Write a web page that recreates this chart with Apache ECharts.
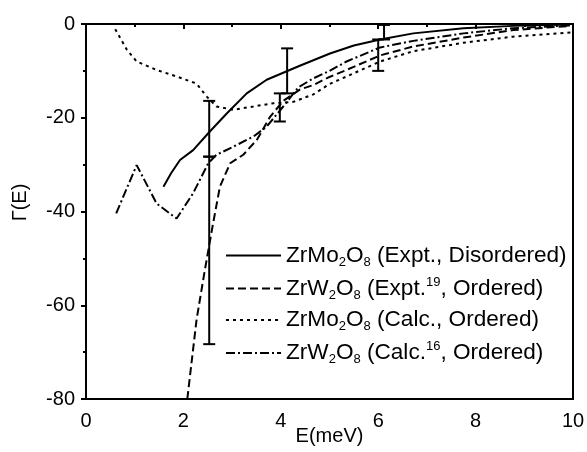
<!DOCTYPE html>
<html>
<head>
<meta charset="utf-8">
<script src="https://cdn.jsdelivr.net/npm/echarts@6/dist/echarts.min.js"></script>
<style>html,body{margin:0;padding:0;background:#fff;}#c{width:587px;height:452px;}</style>
</head>
<body>
<div id="c"></div>
<script>
const solidX = [1.59,1.75,1.93,2.2,2.51,2.89,3.3,3.71,4.05,4.39,5.01,5.5,6.04,6.72,7.75,8.77,9.94];
const solidY = [-34.7,-31.8,-29.0,-26.9,-23.3,-19.1,-14.8,-11.9,-10.4,-8.9,-6.3,-4.6,-3.3,-2.0,-0.9,-0.4,-0.1];
const dashedX = [2.08,2.27,2.44,2.61,2.75,2.96,3.23,3.51,3.78,4.05,4.39,4.67,5.0,5.35,6.04,6.72,7.75,8.77,9.94];
const dashedY = [-80,-63.1,-52.5,-42.5,-34.7,-29.7,-27.9,-24.7,-19.8,-16.4,-14.0,-13.0,-11.3,-9.8,-6.7,-4.8,-2.9,-1.3,-0.4];
const dottedX = [0.6,0.84,1.04,1.45,1.86,2.27,2.48,2.68,3.02,3.44,3.85,4.26,4.67,5.0,5.35,6.04,6.72,7.75,8.77,10];
const dottedY = [-1.1,-5.5,-8.0,-9.8,-11.2,-12.7,-15.5,-17.6,-18.3,-17.6,-16.9,-16.6,-15.0,-12.8,-11.2,-8.0,-5.8,-4.0,-2.7,-1.8];
const dashdotX = [0.62,1.04,1.45,1.86,2.2,2.51,2.68,3.02,3.44,3.71,4.05,4.36,4.67,5.0,5.35,6.04,6.72,7.75,8.77,9.94];
const dashdotY = [-40.4,-30.1,-38.3,-41.5,-36.1,-29.7,-27.9,-26.2,-24.0,-21.9,-17.6,-13.5,-11.6,-10.0,-8.0,-5.0,-3.6,-2.0,-0.9,-0.3];
const errX = [2.53,2.53,4.13,3.98,6.12,6.0];
const errLow = [-28.3,-68.3,-14.8,-20.8,-3.3,-10.0];
const errHigh = [-16.4,-28.3,-5.2,-14.8,-0.2,-3.3];
const seriesNames = ['s1','s2','s3','s4'];
const legendLabels = {
  s1: '{n|ZrMo}{s|2}{n|O}{s|8}{n| (Expt., Disordered)}',
  s2: '{n|ZrW}{s|2}{n|O}{s|8}{n| (Expt.}{p|19}{n|, Ordered)}',
  s3: '{n|ZrMo}{s|2}{n|O}{s|8}{n| (Calc., Ordered)}',
  s4: '{n|ZrW}{s|2}{n|O}{s|8}{n| (Calc.}{p|16}{n|, Ordered)}'
};
const xTicks = {min:0, max:10, interval:2};
const yTicks = {min:-80, max:0, interval:20};

function pairs(xs, ys){ return xs.map((x,i)=>[x, ys[i]]); }
const FONT = '"Liberation Sans", Arial, sans-serif';
const chart = echarts.init(document.getElementById('c'));
const lineCommon = {type:'line', symbol:'none', showSymbol:false, smooth:false, clip:true, animation:false};
chart.setOption({
  backgroundColor:'#fff',
  animation:false,
  grid:{left:86, right:14, top:24, bottom:53, show:true, borderColor:'#000', borderWidth:2, backgroundColor:'transparent',
    containLabel:false, outerBoundsMode:'none'},
  xAxis:{type:'value', min:xTicks.min, max:xTicks.max, interval:xTicks.interval,
    name:'E(meV)', nameLocation:'middle', nameGap:27, nameMoveOverlap:false,
    nameTextStyle:{fontFamily:FONT, fontSize:20, color:'#000'},
    axisLine:{lineStyle:{color:'#000', width:2}},
    axisTick:{show:true, inside:false, length:5, lineStyle:{color:'#000', width:2}},
    minorTick:{show:true, splitNumber:2, length:3, lineStyle:{color:'#000', width:2}},
    splitLine:{show:false},
    axisLabel:{fontFamily:FONT, fontSize:20, color:'#000', margin:12}
  },
  yAxis:{type:'value', min:yTicks.min, max:yTicks.max, interval:yTicks.interval,
    name:'Γ(E)', nameLocation:'middle', nameGap:56,
    nameTextStyle:{fontFamily:FONT, fontSize:20, color:'#000', padding:[0,0,0,18]},
    axisLine:{lineStyle:{color:'#000', width:2}},
    axisTick:{show:true, inside:false, length:5, lineStyle:{color:'#000', width:2}},
    minorTick:{show:true, splitNumber:2, length:3, lineStyle:{color:'#000', width:2}},
    splitLine:{show:false},
    axisLabel:{fontFamily:FONT, fontSize:20, color:'#000', margin:11}
  },
  legend:{
    data:seriesNames, orient:'vertical', left:225, top:244, itemGap:7, padding:0,
    itemWidth:55, itemHeight:14, itemStyle:{opacity:0},
    formatter: n => legendLabels[n],
    textStyle:{fontFamily:FONT, color:'#000',
      rich:{
        n:{fontFamily:FONT, fontSize:22.6, color:'#000', lineHeight:26},
        s:{fontFamily:FONT, fontSize:13, color:'#000', lineHeight:13, verticalAlign:'bottom'},
        p:{fontFamily:FONT, fontSize:13, color:'#000', lineHeight:13, verticalAlign:'top'}
      }}
  },
  series:[
    Object.assign({}, lineCommon, {name:'s1', data:pairs(solidX, solidY), color:'#000', lineStyle:{color:'#000', width:2, type:'solid'}}),
    Object.assign({}, lineCommon, {name:'s2', data:pairs(dashedX, dashedY), color:'#000', lineStyle:{color:'#000', width:2, type:[8,4]}}),
    Object.assign({}, lineCommon, {name:'s3', data:pairs(dottedX, dottedY), color:'#000', lineStyle:{color:'#000', width:2, type:[3,4]}}),
    Object.assign({}, lineCommon, {name:'s4', data:pairs(dashdotX, dashdotY), color:'#000', lineStyle:{color:'#000', width:2, type:[9,3,2,3]}}),
    {type:'custom', name:'err', silent:true, animation:false,
      data: errX.map((x,i)=>[x, errLow[i], errHigh[i]]),
      encode:{x:0, y:[1,2]},
      renderItem:function(params, api){
        const x = api.value(0), lo = api.value(1), hi = api.value(2);
        const a = api.coord([x, lo]), b = api.coord([x, hi]);
        const w = 6;
        const st = {stroke:'#000', lineWidth:2};
        return {type:'group', children:[
          {type:'line', shape:{x1:a[0], y1:a[1], x2:b[0], y2:b[1]}, style:st},
          {type:'line', shape:{x1:a[0]-w, y1:a[1], x2:a[0]+w, y2:a[1]}, style:st},
          {type:'line', shape:{x1:b[0]-w, y1:b[1], x2:b[0]+w, y2:b[1]}, style:st}
        ]};
      }
    }
  ]
});
</script>
</body>
</html>
